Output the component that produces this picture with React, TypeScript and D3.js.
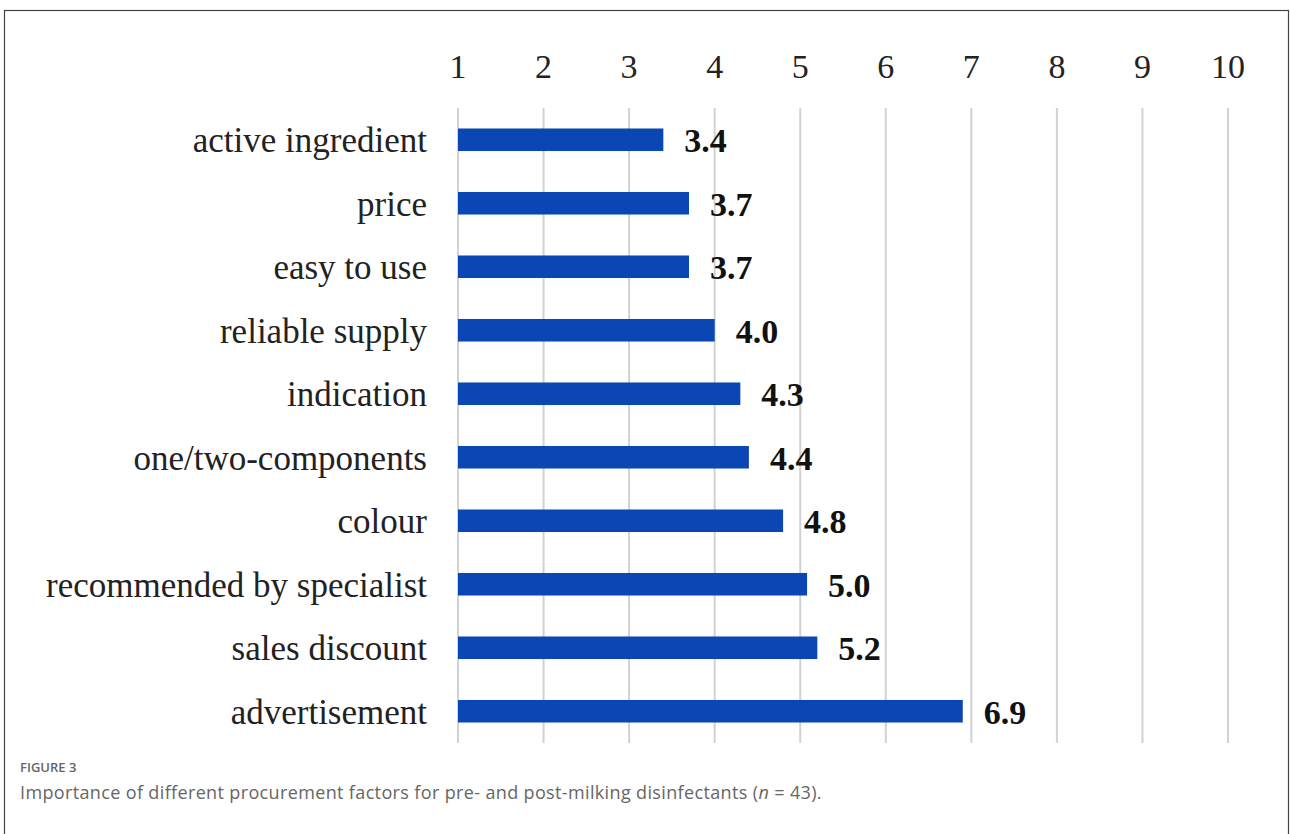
import React from "react";
import * as d3 from "d3";

const categories = [
  "active ingredient",
  "price",
  "easy to use",
  "reliable supply",
  "indication",
  "one/two-components",
  "colour",
  "recommended by specialist",
  "sales discount",
  "advertisement",
];
const values = [3.4, 3.7, 3.7, 4.0, 4.3, 4.4, 4.8, 5.08, 5.2, 6.9];
const valueLabels = ["3.4", "3.7", "3.7", "4.0", "4.3", "4.4", "4.8", "5.0", "5.2", "6.9"];
const ticks = [1, 2, 3, 4, 5, 6, 7, 8, 9, 10];
const figureLabel = "FIGURE 3";
const captionText = "Importance of different procurement factors for pre- and post-milking disinfectants (";
const captionN = "n";
const captionEnd = " = 43).";

export default function App() {
  const W = 1290, H = 834;
  const x = d3.scaleLinear().domain([1, 10]).range([458, 1228]);
  const y = d3.scaleBand<string>().domain(categories).range([108, 743]).paddingInner(0.645).paddingOuter(0.3225);
  const serif = "'Liberation Serif', 'Times New Roman', serif";
  const sans = "'Open Sans', 'Noto Sans', sans-serif";
  return (
    <div style={{ position: "fixed", left: 0, top: 0, width: W, height: H, background: "#fff" }}>
      <svg width={W} height={H} style={{ display: "block" }}>
        <rect x={4.5} y={10.5} width={1284} height={900} fill="none" stroke="#444" strokeWidth={1.2} />
        {ticks.map((t) => (
          <g key={t}>
            <line x1={x(t)} x2={x(t)} y1={108} y2={743} stroke="#d2d2d2" strokeWidth={2} />
            <text x={x(t)} y={78} textAnchor="middle" fontFamily={serif} fontSize={34} fill="#222">
              {t}
            </text>
          </g>
        ))}
        {categories.map((c, i) => {
          const yc = (y(c) as number) + y.bandwidth() / 2;
          return (
            <g key={c}>
              <rect x={x(1)} y={y(c)} width={x(values[i]) - x(1)} height={y.bandwidth()} fill="#0b47b4" />
              <text x={427} y={yc + 12.5} textAnchor="end" fontFamily={serif} fontSize={35} fill="#222">
                {c}
              </text>
              <text x={x(values[i]) + 21} y={yc + 12.5} fontFamily={serif} fontWeight="bold" fontSize={34} fill="#111">
                {valueLabels[i]}
              </text>
            </g>
          );
        })}
        <text x={20} y={772} fontFamily={sans} fontSize={13} fontWeight={600} fill="#666">
          {figureLabel}
        </text>
        <text x={20} y={799} fontFamily={sans} fontSize={18} letterSpacing={0.36} fill="#666">
          {captionText}
          <tspan fontStyle="italic">{captionN}</tspan>
          {captionEnd}
        </text>
      </svg>
    </div>
  );
}
